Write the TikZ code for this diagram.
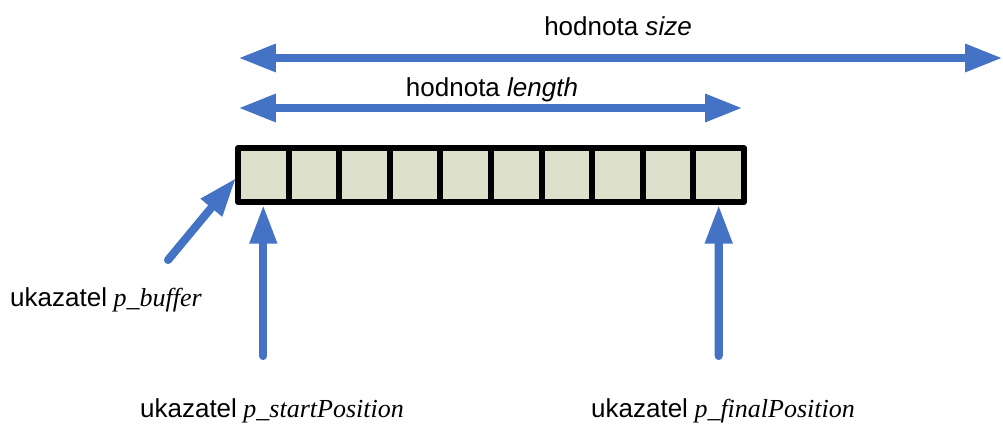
\documentclass[tikz,border=0pt]{standalone}
\usepackage{fontspec}
\setmainfont{Liberation Serif}
\setsansfont{Liberation Sans}
\usetikzlibrary{arrows.meta}
\definecolor{ptrblue}{RGB}{68,114,196}
\definecolor{cellfill}{RGB}{221,225,204}

\begin{document}
\begin{tikzpicture}[x=0.02cm,y=-0.02cm,
    cell/.style={draw,fill=cellfill,line width=0.12cm,line join=round,
        minimum width=1.012cm,minimum height=1.08cm,inner sep=0pt},
    dim/.style={ptrblue,line width=5.1pt,
        {Triangle[length=21.5pt,width=14.7pt]}-{Triangle[length=21.5pt,width=14.7pt]}},
    ptr/.style={ptrblue,line width=4.6pt,line cap=round,
        -{Triangle[length=22pt,width=14.7pt]}},
    lbl/.style={inner sep=0pt,anchor=base,font=\fontsize{14.8}{18}\selectfont}]
    \useasboundingbox (0,0) rectangle (1003,424);

    \foreach \i in {0,...,9}
        \node[cell] (c\i) at (263.3+50.6*\i,175) {};

    \node[lbl] (size) at (618,35) {\sffamily hodnota \textit{size}};
    \node[lbl] (len) at (492,96) {\sffamily hodnota \textit{length}};
    \node[lbl] (buf) at (106,306) {{\sffamily ukazatel} \textit{p\_buffer}};
    \node[lbl] (start) at (272,417) {{\sffamily ukazatel} \textit{p\_startPosition}};
    \node[lbl] (final) at (723,417) {{\sffamily ukazatel} \textit{p\_finalPosition}};

    \coordinate (sa) at (238,58);
    \coordinate (sb) at (1003,58);
    \coordinate (la) at (238,108);
    \coordinate (lb) at (743,108);
    \coordinate (bt) at (168,260);
    \coordinate (st) at (263.3,356);
    \coordinate (ft) at (718.7,356);

    \draw[dim] (sa)--(sb);
    \draw[dim] (la)--(lb);
    \draw[ptr] (bt)--(236,178);
    \draw[ptr] (st)--(c0.south);
    \draw[ptr] (ft)--(c9.south);
\end{tikzpicture}
\end{document}
